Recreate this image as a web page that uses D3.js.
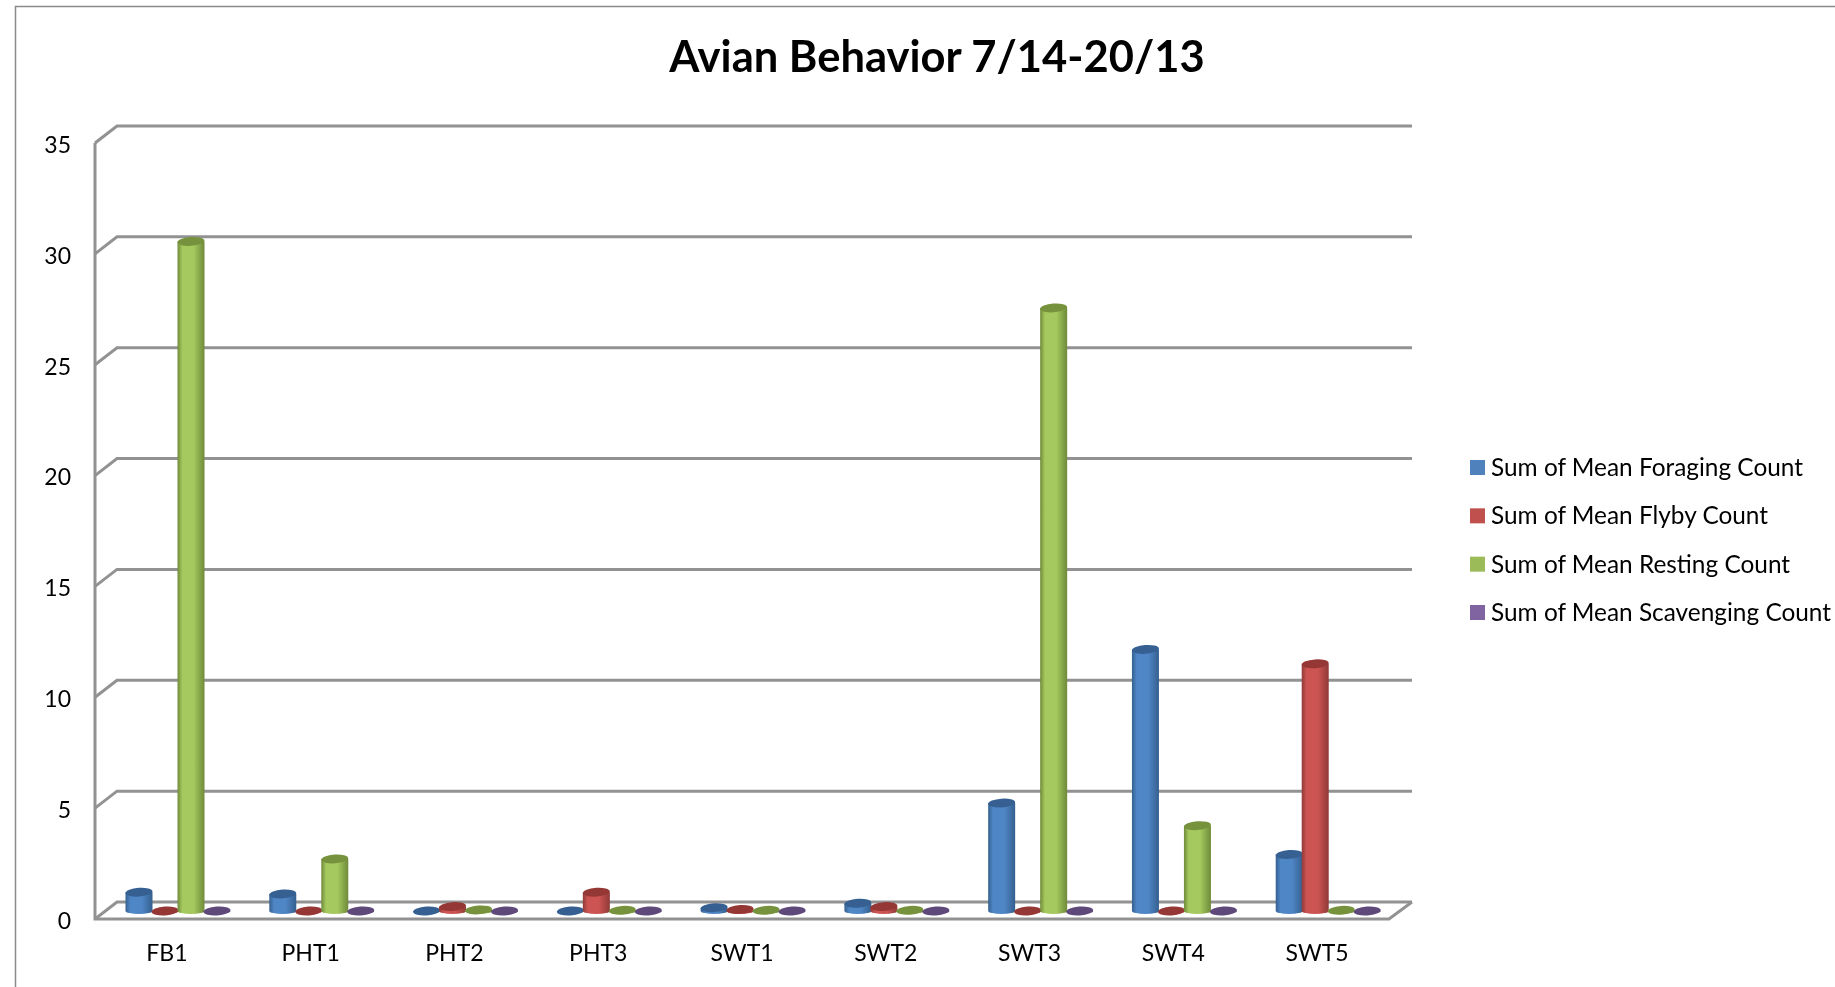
<!DOCTYPE html>
<html>
<head>
<meta charset="utf-8">
<script src="https://cdn.jsdelivr.net/npm/d3@7"></script>
<style>
  html, body { margin: 0; padding: 0; background: #fff; overflow: hidden; }
  text { font-family: Lato, "Open Sans", sans-serif; fill: #000; }
  /* the source is a slightly soft upscaled screenshot */
  svg { filter: blur(0.45px); }
</style>
</head>
<body>
<div id="chart"></div>
<script>
const sites = ['FB1', 'PHT1', 'PHT2', 'PHT3', 'SWT1', 'SWT2', 'SWT3', 'SWT4', 'SWT5'];
const seriesNames = [
  'Sum of Mean Foraging Count',
  'Sum of Mean Flyby Count',
  'Sum of Mean Resting Count',
  'Sum of Mean Scavenging Count'
];
const foraging = [0.85, 0.77, 0, 0, 0.15, 0.35, 4.87, 11.8, 2.55];
const flyby = [0, 0, 0.2, 0.85, 0.07, 0.2, 0, 0, 11.15];
const resting = [30.2, 2.35, 0.05, 0.03, 0.03, 0.03, 27.2, 3.85, 0.03];
const scavenging = [0, 0, 0, 0, 0, 0, 0, 0, 0];
const yTicks = [0, 5, 10, 15, 20, 25, 30, 35];

const seriesValues = [foraging, flyby, resting, scavenging];
// edge, middle, top cap
const seriesColors = [
  ['#35608f', '#4f86c6', '#366092'],
  ['#8f3a38', '#cc5452', '#953735'],
  ['#6f8a3a', '#a5c95e', '#76923c'],
  ['#5f497a', '#8064a2', '#5f497a']
];
const legendColors = ['#4f81bd', '#c0504d', '#9bbb59', '#8064a2'];

const width = 1835, height = 987;
const gridColor = '#929292';
const depthX = 22, depthY = 17;
const plot = {left: 95, right: 1389, top: 143, bottom: 919};

const svg = d3.select('#chart').append('svg')
    .attr('width', width)
    .attr('height', height)
    .style('display', 'block');

// Outer frame, cut off by the edge of the screenshot
svg.append('path')
    .attr('d', `M${width},6.5H15.5V${height}`)
    .attr('fill', 'none')
    .attr('stroke', '#8a8a8a')
    .attr('stroke-width', 1.5);

svg.append('text')
    .attr('x', 937)
    .attr('y', 72)
    .attr('text-anchor', 'middle')
    .attr('font-size', 43.5)
    .attr('font-weight', 700)
    .text('Avian Behavior 7/14-20/13');

const y = d3.scaleLinear().domain([0, 35]).range([plot.bottom, plot.top]);
const x = d3.scaleBand().domain(sites).range([plot.left, plot.right]);
// bars sit on the floor of the 3D box, offset from the front axis
const barBase = plot.bottom - 8;
const barY = v => y(v) - (plot.bottom - barBase);
const inner = d3.scaleBand().domain(d3.range(4)).range([31, 135]);

// Gridlines on the back wall with the little diagonal to the front axis
const grid = svg.append('g');
yTicks.forEach(t => {
  grid.append('path')
      .attr('d', `M${plot.left},${y(t)}L${plot.left + depthX},${y(t) - depthY}H${plot.right + depthX + 1}`)
      .attr('fill', 'none')
      .attr('stroke', gridColor)
      .attr('stroke-width', 3);
});
grid.append('path')
    .attr('d', `M${plot.left},${plot.top}V${plot.bottom}H${plot.right}L${plot.right + depthX + 1},${plot.bottom - depthY}`)
    .attr('fill', 'none')
    .attr('stroke', gridColor)
    .attr('stroke-width', 3);

// Axes, only their labels show
const yAxis = svg.append('g')
    .attr('transform', `translate(${plot.left},2)`)
    .call(d3.axisLeft(y).tickValues(yTicks).tickSize(0).tickPadding(24));
const xAxis = svg.append('g')
    .attr('transform', `translate(0,${plot.bottom + 2})`)
    .call(d3.axisBottom(x).tickSize(0).tickPadding(24));
[yAxis, xAxis].forEach(a => {
  a.select('.domain').remove();
  a.selectAll('text').attr('font-size', 23);
  a.attr('font-family', null);
});

// Horizontal shading for the cylinders
const defs = svg.append('defs');
seriesColors.forEach((c, i) => {
  const grad = defs.append('linearGradient').attr('id', `cyl-${i}`);
  [[0, c[0]], [0.18, c[1]], [0.6, c[1]], [1, c[0]]].forEach(s => {
    grad.append('stop').attr('offset', s[0]).attr('stop-color', s[1]);
  });
});

const rx = inner.bandwidth() / 2 + 0.5, ry = 4.4;

seriesValues.forEach((values, i) => {
  const g = svg.append('g').attr('class', 'series');
  const cx = d => x(sites[d]) + inner(i) + inner.bandwidth() / 2;

  g.selectAll('path')
      .data(values.map((v, k) => ({v, k})))
    .join('path')
      .attr('d', d => {
        const c = cx(d.k);
        return `M${c - rx},${barY(d.v)}V${barBase}A${rx},3 0 0 0 ${c + rx},${barBase}V${barY(d.v)}Z`;
      })
      .attr('fill', `url(#cyl-${i})`);

  // caps lean slightly, like the 3D rotation in the source
  g.selectAll('ellipse')
      .data(values.map((v, k) => ({v, k})))
    .join('ellipse')
      .attr('cx', d => cx(d.k))
      .attr('cy', d => barY(d.v))
      .attr('rx', rx)
      .attr('ry', ry)
      .attr('transform', d => `rotate(-4 ${cx(d.k)} ${barY(d.v)})`)
      .attr('fill', seriesColors[i][2]);
});

// Legend
const legendY = d3.scalePoint().domain(seriesNames).range([467.5, 612.5]);
const legend = svg.append('g');
seriesNames.forEach((name, i) => {
  legend.append('rect')
      .attr('x', 1470)
      .attr('y', legendY(name) - 7.5)
      .attr('width', 15)
      .attr('height', 15)
      .attr('fill', legendColors[i]);
  legend.append('text')
      .attr('x', 1491)
      .attr('y', legendY(name))
      .attr('dy', '0.35em')
      .attr('font-size', 24.4)
      .text(name);
});
</script>
</body>
</html>
